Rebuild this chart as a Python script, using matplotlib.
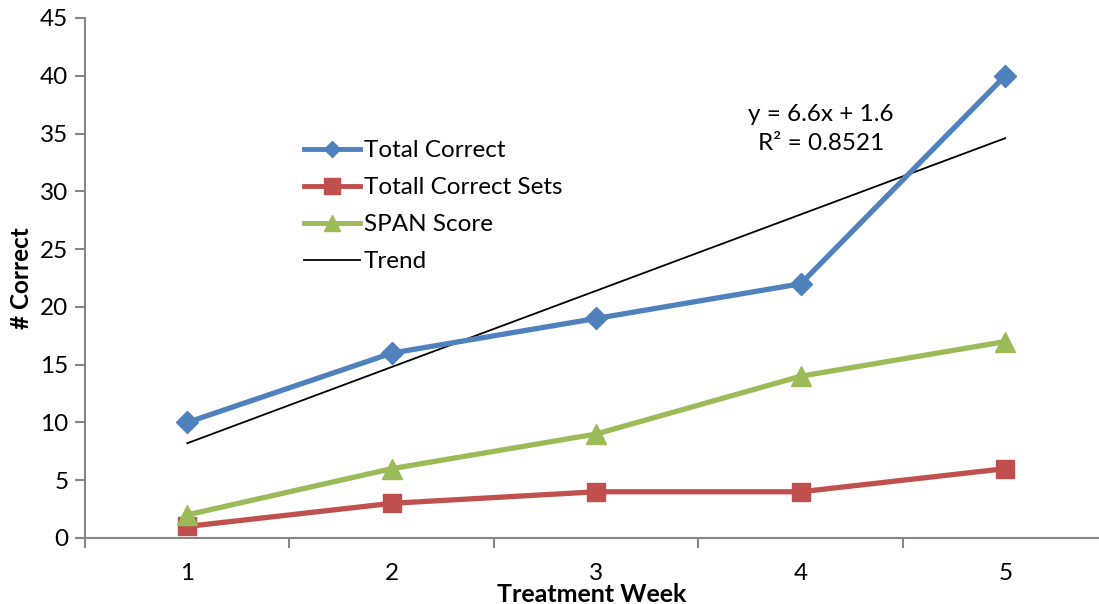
import numpy as np
import matplotlib
matplotlib.use("Agg")
import matplotlib.pyplot as plt
from matplotlib.lines import Line2D

weeks = [1, 2, 3, 4, 5]
total_correct = [10, 16, 19, 22, 40]
total_correct_sets = [1, 3, 4, 4, 6]
span_score = [2, 6, 9, 14, 17]
y_ticks = list(range(0, 50, 5))
series_labels = ['Total Correct', 'Totall Correct Sets', 'SPAN Score', 'Trend']

plt.rcParams['font.family'] = ['Lato', 'DejaVu Sans']

W, H = 1099, 604
fig = plt.figure(figsize=(W / 100, H / 100), dpi=100)
left = 85 / W
bottom = (H - 538) / H
top = (H - 18) / H
ax = fig.add_axes([left, bottom, 1.0 - left, top - bottom])

blue = '#4F81BD'
red = '#C0504D'
green = '#9BBB59'

ax.plot(weeks, total_correct, color=blue, lw=3.8, marker='D', ms=11, zorder=3)
ax.plot(weeks, total_correct_sets, color=red, lw=3.8, marker='s', ms=13, zorder=3)
ax.plot(weeks, span_score, color=green, lw=3.8, marker='^', ms=15, zorder=3)

slope, intercept = np.polyfit(weeks, total_correct, 1)
xs = np.array([weeks[0], weeks[-1]])
ax.plot(xs, slope * xs + intercept, color='black', lw=1.3, zorder=2)
yhat = slope * np.array(weeks) + intercept
ss_res = np.sum((np.array(total_correct) - yhat) ** 2)
ss_tot = np.sum((np.array(total_correct) - np.mean(total_correct)) ** 2)
r2 = 1 - ss_res / ss_tot
fig.text(821 / W, 1 - 129 / H, f"y = {slope:.1f}x + {intercept:.1f}\nR² = {r2:.4f}",
         ha='center', va='center', fontsize=17.5, linespacing=1.45, multialignment='center')

xmax = 0.5 + (W - 85) / 204.5
ax.set_xlim(0.5, xmax)
ax.set_ylim(0, 45)
ax.set_yticks(y_ticks)
ax.set_xticks(weeks)
ax.set_xticks([0.5, 1.5, 2.5, 3.5, 4.5], minor=True)
ax.tick_params(axis='x', which='major', length=0, labelsize=17.5, pad=18)
ax.tick_params(axis='x', which='minor', length=7, width=1.5, color='#868686', direction='out')
ax.tick_params(axis='y', length=7, width=1.5, color='#868686', labelsize=17.5, pad=5)
for s in ['top', 'right']:
    ax.spines[s].set_visible(False)
for s in ['left', 'bottom']:
    ax.spines[s].set_color('#868686')
    ax.spines[s].set_linewidth(1.5)

ax.set_xlabel('Treatment Week', fontsize=18, fontweight='bold', labelpad=-1)
ax.set_ylabel('# Correct', fontsize=17.5, fontweight='bold', labelpad=5)

handles = [
    Line2D([], [], color=blue, lw=3.5, marker='D', ms=8),
    Line2D([], [], color=red, lw=3.5, marker='s', ms=11),
    Line2D([], [], color=green, lw=3.5, marker='^', ms=11),
    Line2D([], [], color='black', lw=1.3),
]
leg = fig.legend(handles, series_labels, loc='upper left',
                 bbox_to_anchor=(304 / W, 1 - 140 / H), bbox_transform=fig.transFigure,
                 frameon=False, fontsize=17.5, handlelength=2.3, handletextpad=0.16,
                 labelspacing=0.66, borderaxespad=0, borderpad=0, numpoints=1)

fig.savefig('out.png', dpi=100)
